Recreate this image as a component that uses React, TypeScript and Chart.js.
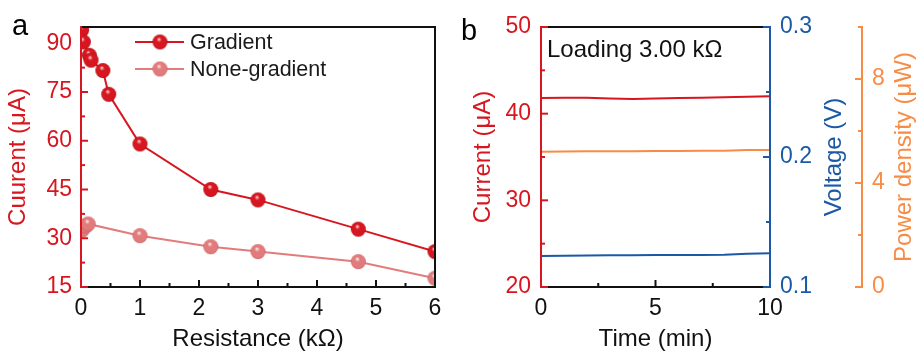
import React, { useEffect, useRef } from 'react';
import { Chart, registerables } from 'chart.js';
Chart.register(...registerables);

// ---------- Panel a data ----------
const RES_GRADIENT = [0.01, 0.04, 0.14, 0.17, 0.37, 0.47, 1, 2.2, 3, 4.7, 6];
const CUR_GRADIENT = [94, 90.4, 86.3, 84.8, 81.6, 74.3, 59, 45, 41.8, 32.8, 25.9];
const RES_NONE = [0.02, 0.08, 0.12, 1, 2.2, 3, 4.7, 6];
const CUR_NONE = [32.5, 33.8, 34.4, 30.8, 27.4, 25.9, 22.8, 17.7];
const A_X_TICKS = [0, 1, 2, 3, 4, 5, 6];
const A_X_MINOR = [0.5, 1.5, 2.5, 3.5, 4.5, 5.5];
const A_Y_TICKS = [15, 30, 45, 60, 75, 90];
const A_Y_MINOR = [22.5, 37.5, 52.5, 67.5, 82.5];
const LEGEND_LABELS = ['Gradient', 'None-gradient'];

// ---------- Panel b data ----------
const TIME = [0, 1, 2, 3, 4, 5, 6, 7, 8, 9, 10];
const CURRENT = [41.8, 41.85, 41.85, 41.75, 41.7, 41.75, 41.8, 41.85, 41.9, 41.95, 42.0];
const VOLTAGE = [0.1238, 0.1241, 0.1243, 0.1244, 0.1245, 0.1246, 0.1246, 0.1247, 0.1248, 0.1256, 0.1259];
const POWER = [5.2, 5.21, 5.22, 5.22, 5.22, 5.23, 5.23, 5.24, 5.24, 5.27, 5.27];
const B_X_TICKS = [0, 5, 10];
const B_X_MINOR = [2.5, 7.5];
const B_CUR_TICKS = [20, 30, 40, 50];
const B_CUR_MINOR = [25, 35, 45];
const B_VOLT_TICKS = [0.1, 0.2, 0.3];
const B_VOLT_MINOR = [0.15, 0.25];
const B_POW_TICKS = [0, 4, 8];
const B_POW_MINOR = [2, 6, 10];

const FONT = "'Liberation Sans', Arial, Helvetica, sans-serif";
const BLACK = '#111111';
const RED = '#d7161f';
const PINK = '#e27c7c';
const BLUE = '#1b58a5';
const ORANGE = '#f68c45';

function makeSphere(base: string, light: string, dark: string, r: number) {
  const size = Math.ceil(r * 2) + 2;
  const c = document.createElement('canvas');
  c.width = size;
  c.height = size;
  const g = c.getContext('2d')!;
  const cx = size / 2, cy = size / 2;
  const grad = g.createRadialGradient(cx - r * 0.15, cy - r * 0.4, r * 0.05, cx, cy, r);
  grad.addColorStop(0, light);
  grad.addColorStop(0.3, base);
  grad.addColorStop(0.85, base);
  grad.addColorStop(1, dark);
  g.fillStyle = grad;
  g.beginPath();
  g.arc(cx, cy, r, 0, Math.PI * 2);
  g.fill();
  return c;
}

function seg(ctx: CanvasRenderingContext2D, x1: number, y1: number, x2: number, y2: number, color: string, w = 2) {
  ctx.strokeStyle = color;
  ctx.lineWidth = w;
  ctx.beginPath();
  ctx.moveTo(x1, y1);
  ctx.lineTo(x2, y2);
  ctx.stroke();
}

function fixedTicks(values: number[]) {
  return (s: any) => {
    s.ticks = values.map((v) => ({ value: v }));
  };
}

const NO_GRID = { display: false, drawTicks: false, tickLength: 0 };

export default function App() {
  const refA = useRef<HTMLCanvasElement>(null);
  const refB = useRef<HTMLCanvasElement>(null);

  useEffect(() => {
    Chart.defaults.font.family = FONT;
    const sphereG = makeSphere(RED, '#fbd0d0', '#a30d16', 7.5);
    const sphereN = makeSphere(PINK, '#fdeaea', '#c45a5a', 7.5);

    const frameA = {
      id: 'frameA',
      afterDraw(chart: any) {
        const { ctx, chartArea: a } = chart;
        const xs = chart.scales.x, ys = chart.scales.y;
        ctx.save();
        ctx.lineCap = 'butt';
        seg(ctx, a.left - 1, a.top, a.right + 1, a.top, BLACK);
        seg(ctx, a.right, a.top - 1, a.right, a.bottom + 1, BLACK);
        seg(ctx, a.left - 1, a.bottom, a.right + 1, a.bottom, BLACK);
        A_X_TICKS.forEach((v) => { const p = xs.getPixelForValue(v); seg(ctx, p, a.bottom, p, a.bottom - 7, BLACK); });
        A_X_MINOR.forEach((v) => { const p = xs.getPixelForValue(v); seg(ctx, p, a.bottom, p, a.bottom - 4, BLACK); });
        seg(ctx, a.left, a.top - 1, a.left, a.bottom + 1, RED);
        A_Y_TICKS.forEach((v) => { const p = ys.getPixelForValue(v); seg(ctx, a.left, p, a.left + 7, p, RED); });
        A_Y_MINOR.forEach((v) => { const p = ys.getPixelForValue(v); seg(ctx, a.left, p, a.left + 4, p, RED); });
        // legend
        const rows = [
          { y: 42, color: RED, img: sphereG, label: LEGEND_LABELS[0] },
          { y: 69, color: PINK, img: sphereN, label: LEGEND_LABELS[1] },
        ];
        ctx.font = `21.5px ${FONT}`;
        ctx.textBaseline = 'middle';
        ctx.textAlign = 'left';
        rows.forEach((r) => {
          seg(ctx, 135, r.y, 184, r.y, r.color, 2);
          ctx.drawImage(r.img, 160 - r.img.width / 2, r.y - r.img.height / 2);
          ctx.fillStyle = '#1a1a1a';
          ctx.fillText(r.label, 190, r.y + 1);
        });
        // panel letter
        ctx.font = `29px ${FONT}`;
        ctx.textBaseline = 'alphabetic';
        ctx.fillStyle = '#000';
        ctx.fillText('a', 12, 35);
        ctx.restore();
      },
    };

    const frameB = {
      id: 'frameB',
      afterDraw(chart: any) {
        const { ctx, chartArea: a } = chart;
        const xs = chart.scales.x, yc = chart.scales.y, yv = chart.scales.yV, yp = chart.scales.yP;
        ctx.save();
        ctx.lineCap = 'butt';
        seg(ctx, a.left - 1, a.top, a.right + 1, a.top, BLACK);
        seg(ctx, a.left - 1, a.bottom, a.right + 1, a.bottom, BLACK);
        B_X_TICKS.forEach((v) => { const p = xs.getPixelForValue(v); seg(ctx, p, a.bottom, p, a.bottom - 7, BLACK); });
        B_X_MINOR.forEach((v) => { const p = xs.getPixelForValue(v); seg(ctx, p, a.bottom, p, a.bottom - 4, BLACK); });
        // left red
        seg(ctx, a.left, a.top - 1, a.left, a.bottom + 1, RED);
        B_CUR_TICKS.forEach((v) => { const p = yc.getPixelForValue(v); seg(ctx, a.left, p, a.left + 7, p, RED); });
        B_CUR_MINOR.forEach((v) => { const p = yc.getPixelForValue(v); seg(ctx, a.left, p, a.left + 4, p, RED); });
        // right blue
        seg(ctx, a.right, a.top - 1, a.right, a.bottom + 1, BLUE);
        B_VOLT_TICKS.forEach((v) => { const p = yv.getPixelForValue(v); seg(ctx, a.right, p, a.right - 7, p, BLUE); });
        B_VOLT_MINOR.forEach((v) => { const p = yv.getPixelForValue(v); seg(ctx, a.right, p, a.right - 4, p, BLUE); });
        // orange axis
        const ox = yp.left;
        seg(ctx, ox, a.top - 1, ox, a.bottom + 1, ORANGE);
        B_POW_TICKS.forEach((v) => { const p = yp.getPixelForValue(v); seg(ctx, ox, p, ox - 7, p, ORANGE); });
        B_POW_MINOR.forEach((v) => { const p = yp.getPixelForValue(v); seg(ctx, ox, p, ox - 4, p, ORANGE); });
        // right titles (rotated bottom-to-top)
        const cy = (a.top + a.bottom) / 2;
        ctx.font = `24px ${FONT}`;
        ctx.textAlign = 'center';
        ctx.textBaseline = 'middle';
        ctx.save();
        ctx.translate(yv.right - 28, cy);
        ctx.rotate(-Math.PI / 2);
        ctx.fillStyle = BLUE;
        ctx.fillText('Voltage (V)', 0, 0);
        ctx.restore();
        ctx.save();
        ctx.translate(yp.right - 12, cy);
        ctx.rotate(-Math.PI / 2);
        ctx.fillStyle = ORANGE;
        ctx.fillText('Power density (μW)', 0, 0);
        ctx.restore();
        // annotation
        ctx.textAlign = 'left';
        ctx.fillStyle = '#111';
        ctx.fillText('Loading 3.00 kΩ', 97, 50);
        ctx.font = `29px ${FONT}`;
        ctx.textBaseline = 'alphabetic';
        ctx.fillStyle = '#000';
        ctx.fillText('b', 11, 40);
        ctx.restore();
      },
    };

    const tickFont = { size: 23 };
    const titleFont = { size: 24 };

    const chartA = new Chart(refA.current!, {
      type: 'line',
      data: {
        datasets: [
          {
            label: LEGEND_LABELS[1],
            data: RES_NONE.map((x, i) => ({ x, y: CUR_NONE[i] })),
            borderColor: PINK,
            borderWidth: 2,
            pointStyle: sphereN as any,
            pointRadius: 7,
            clip: 0 as any,
          },
          {
            label: LEGEND_LABELS[0],
            data: RES_GRADIENT.map((x, i) => ({ x, y: CUR_GRADIENT[i] })),
            borderColor: RED,
            borderWidth: 2,
            pointStyle: sphereG as any,
            pointRadius: 7,
            clip: 0 as any,
          },
        ],
      },
      options: {
        responsive: false,
        animation: false,
        layout: { padding: { top: 27, right: 15, left: 0, bottom: 0 } },
        plugins: { legend: { display: false }, tooltip: { enabled: false } },
        scales: {
          x: {
            type: 'linear', min: 0, max: 6,
            afterBuildTicks: fixedTicks(A_X_TICKS),
            afterFit: (s: any) => { s.height = 66; },
            grid: NO_GRID, border: { display: false },
            ticks: { color: BLACK, font: tickFont, padding: 8, maxRotation: 0, autoSkip: false },
            title: { display: true, text: 'Resistance (kΩ)', color: BLACK, font: titleFont, padding: { top: 0, bottom: -1 } },
          },
          y: {
            type: 'linear', min: 15, max: 95,
            afterBuildTicks: fixedTicks(A_Y_TICKS),
            afterFit: (s: any) => { s.width = 81; },
            grid: NO_GRID, border: { display: false },
            ticks: { color: RED, font: tickFont, padding: 9, autoSkip: false },
            title: { display: true, text: 'Cuurent (μA)', color: RED, font: titleFont, padding: { top: 4, bottom: 0 } },
          },
        },
      } as any,
      plugins: [frameA],
    });

    const chartB = new Chart(refB.current!, {
      type: 'line',
      data: {
        datasets: [
          {
            label: 'Current',
            data: TIME.map((x, i) => ({ x, y: CURRENT[i] })),
            borderColor: RED, borderWidth: 2, pointRadius: 0, yAxisID: 'y',
          },
          {
            label: 'Power density',
            data: TIME.map((x, i) => ({ x, y: POWER[i] })),
            borderColor: ORANGE, borderWidth: 2, pointRadius: 0, yAxisID: 'yP',
          },
          {
            label: 'Voltage',
            data: TIME.map((x, i) => ({ x, y: VOLTAGE[i] })),
            borderColor: BLUE, borderWidth: 2, pointRadius: 0, yAxisID: 'yV',
          },
        ],
      },
      options: {
        responsive: false,
        animation: false,
        layout: { padding: { top: 27, right: 0, left: 0, bottom: 0 } },
        plugins: { legend: { display: false }, tooltip: { enabled: false } },
        scales: {
          x: {
            type: 'linear', min: 0, max: 10,
            afterBuildTicks: fixedTicks(B_X_TICKS),
            afterFit: (s: any) => { s.height = 66; },
            grid: NO_GRID, border: { display: false },
            ticks: { color: BLACK, font: tickFont, padding: 8, maxRotation: 0, autoSkip: false },
            title: { display: true, text: 'Time (min)', color: BLACK, font: titleFont, padding: { top: 0, bottom: -1 } },
          },
          y: {
            type: 'linear', position: 'left', min: 20, max: 50,
            afterBuildTicks: fixedTicks(B_CUR_TICKS),
            afterFit: (s: any) => { s.width = 91; },
            grid: NO_GRID, border: { display: false },
            ticks: { color: RED, font: tickFont, padding: 10, autoSkip: false },
            title: { display: true, text: 'Current (μA)', color: RED, font: titleFont, padding: { top: 19, bottom: 0 } },
          },
          yV: {
            type: 'linear', position: 'right', weight: 0, min: 0.1, max: 0.3,
            afterBuildTicks: fixedTicks(B_VOLT_TICKS),
            afterFit: (s: any) => { s.width = 92; },
            grid: NO_GRID, border: { display: false },
            ticks: { color: BLUE, font: tickFont, padding: 10, autoSkip: false, callback: (v: any) => Number(v).toFixed(1) },
          },
          yP: {
            type: 'linear', position: 'right', weight: 1, min: 0, max: 10,
            afterBuildTicks: fixedTicks(B_POW_TICKS),
            afterFit: (s: any) => { s.width = 54; },
            grid: NO_GRID, border: { display: false },
            ticks: { color: ORANGE, font: tickFont, padding: 10, autoSkip: false },
          },
        },
      } as any,
      plugins: [frameB],
    });

    return () => {
      chartA.destroy();
      chartB.destroy();
    };
  }, []);

  return (
    <div style={{ position: 'absolute', left: 0, top: 0, width: 916, height: 353, background: '#fff', overflow: 'hidden' }}>
      <canvas ref={refA} width={450} height={353} style={{ position: 'absolute', left: 0, top: 0 }} />
      <canvas ref={refB} width={466} height={353} style={{ position: 'absolute', left: 450, top: 0 }} />
    </div>
  );
}
